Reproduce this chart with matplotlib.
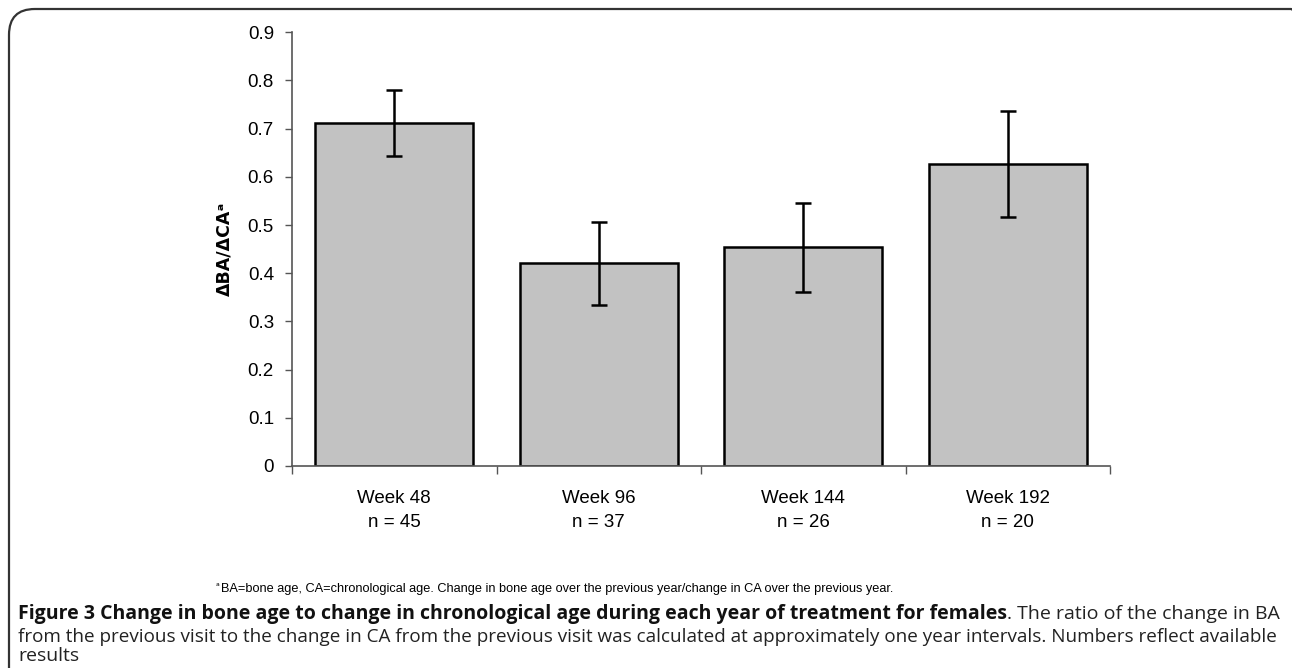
import matplotlib
matplotlib.use("Agg")
import matplotlib.pyplot as plt
from matplotlib.patches import FancyBboxPatch
import numpy as np

categories = ["Week 48\nn = 45", "Week 96\nn = 37", "Week 144\nn = 26", "Week 192\nn = 20"]
values = [0.711, 0.422, 0.454, 0.627]
err_low = [0.644, 0.333, 0.361, 0.516]
err_high = [0.780, 0.507, 0.546, 0.737]
yticks = [0, 0.1, 0.2, 0.3, 0.4, 0.5, 0.6, 0.7, 0.8, 0.9]
ytick_labels = ["0", "0.1", "0.2", "0.3", "0.4", "0.5", "0.6", "0.7", "0.8", "0.9"]

footnote = "BA=bone age, CA=chronological age. Change in bone age over the previous year/change in CA over the previous year."
cap_bold = "Figure 3 Change in bone age to change in chronological age during each year of treatment for females"
cap_rest1 = ". The ratio of the change in BA"
cap_line2 = "from the previous visit to the change in CA from the previous visit was calculated at approximately one year intervals. Numbers reflect available"
cap_line3 = "results"

plt.rcParams['font.family'] = ['Liberation Sans', 'DejaVu Sans']

W, H = 1292, 668
fig = plt.figure(figsize=(W / 100, H / 100), dpi=100)
ax = fig.add_axes([292 / W, 1 - 465.9 / H, (1110 - 292) / W, (465.9 - 32.3) / H])

x = np.arange(len(categories))
vals = np.array(values)
lo = vals - np.array(err_low)
hi = np.array(err_high) - vals
ax.bar(x, vals, width=0.775, color="#c2c2c2", edgecolor="black", linewidth=1.8, zorder=2)
ax.errorbar(x, vals, yerr=[lo, hi], fmt="none", ecolor="black", elinewidth=1.8,
            capsize=6, capthick=1.8, zorder=3)

ax.set_xlim(-0.5, len(categories) - 0.5)
ax.set_ylim(0, 0.9)
ax.set_yticks(yticks)
ax.set_yticklabels(ytick_labels, fontsize=13.5)
ax.set_xticks(x)
ax.set_xticklabels(categories, fontsize=13.5, linespacing=1.55)
ax.set_xticks(np.arange(-0.5, len(categories)), minor=True)
ax.tick_params(axis="x", which="major", length=0, pad=17)
ax.tick_params(axis="x", which="minor", length=6, width=1, color="#555555", direction="out")
ax.tick_params(axis="y", length=5, width=1, color="#555555", direction="out", pad=8)
for s in ["top", "right"]:
    ax.spines[s].set_visible(False)
for s in ["left", "bottom"]:
    ax.spines[s].set_color("#555555")
    ax.spines[s].set_linewidth(1.2)

ax.set_ylabel("ΔBA/ΔCAᵃ", fontsize=12.5, fontweight="bold", labelpad=10,
              family=['DejaVu Sans'])

# footnote
fig.text(216 / W, 1 - 587 / H, "ᵃ", fontsize=7, family=['DejaVu Sans'], va="center")
fig.text(221 / W, 1 - 589 / H, footnote, fontsize=9.2, va="center", ha="left")

# caption (fit each full line to the text block width, like the justified original)
fig.canvas.draw()
r = fig.canvas.get_renderer()
x0, x1 = 18, 1275
fam = ['Open Sans', 'DejaVu Sans']
fs = 13.9
y1, y2, y3 = 614, 637, 656

t1 = fig.text(x0 / W, 1 - y1 / H, cap_bold, fontsize=fs, fontweight="bold", color="#111111",
              va="center", ha="left", family=fam)
t1b = fig.text(0, 1 - y1 / H, cap_rest1, fontsize=fs, color="#222222",
               va="center", ha="left", family=fam)
w = t1.get_window_extent(renderer=r).width + t1b.get_window_extent(renderer=r).width
fs1 = fs * (x1 - x0) / w
t1.set_fontsize(fs1)
t1b.set_fontsize(fs1)
bb = t1.get_window_extent(renderer=r)
t1b.set_x(bb.x1 / W)

t2 = fig.text(x0 / W, 1 - y2 / H, cap_line2, fontsize=fs, color="#222222",
              va="center", ha="left", family=fam)
w2 = t2.get_window_extent(renderer=r).width
t2.set_fontsize(fs * (x1 - x0) / w2)

fig.text(x0 / W, 1 - y3 / H, cap_line3, fontsize=fs1, color="#222222",
         va="center", ha="left", family=fam)

# rounded frame
frame = FancyBboxPatch((9 / W, -0.2), (1291 - 9) / W + 0.02, 1 - 9 / H + 0.2,
                       boxstyle="round,pad=0,rounding_size=0.02",
                       transform=fig.transFigure, fill=False, edgecolor="#333333",
                       linewidth=1.6, mutation_aspect=W / H)
fig.patches.append(frame)

fig.savefig("out.png", dpi=100)
